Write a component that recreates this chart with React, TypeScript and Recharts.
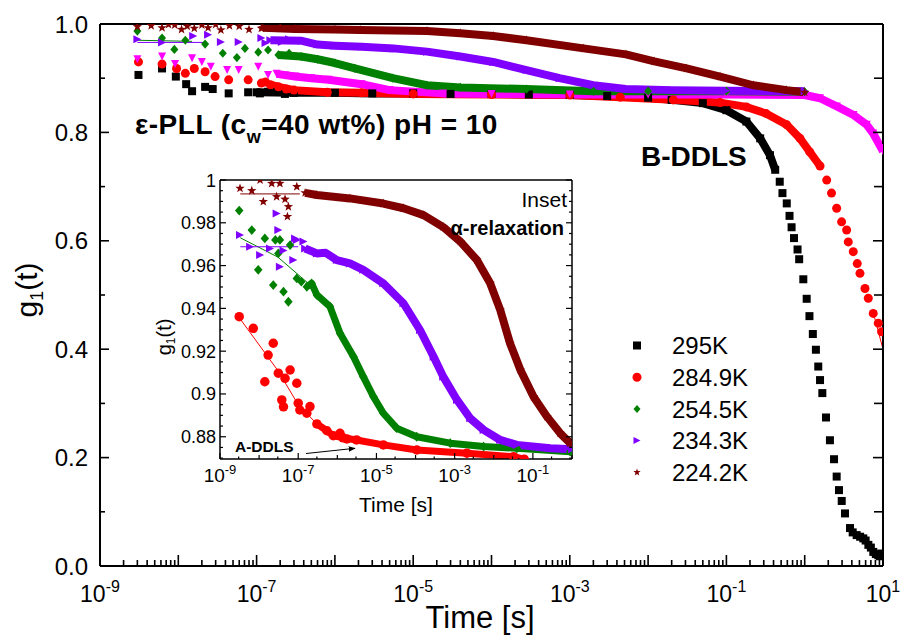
import React from "react";
import { ComposedChart, Scatter, Line, XAxis, YAxis } from "recharts";

type Pt = [number, number];

const FONT = "'Liberation Sans', Arial, Helvetica, sans-serif";

// ---------- main panel: time [s] vs g1(t) ----------
const early295: Pt[] = [[3.1e-9, 0.906], [6.2e-9, 0.918], [9.3e-9, 0.903], [1.26e-8, 0.889], [1.5e-8, 0.876], [2.2e-8, 0.884], [2.75e-8, 0.88], [4.4e-8, 0.872], [7.8e-8, 0.874], [1.1e-7, 0.872], [1.4e-7, 0.875], [1.8e-7, 0.875], [2.3e-7, 0.871]];
const band295: Pt[] = [[1e-7, 0.874], [3e-7, 0.873], [1e-6, 0.873], [3e-6, 0.872], [1e-5, 0.872], [3e-5, 0.871], [1e-4, 0.871], [3e-4, 0.87], [1e-3, 0.869], [3e-3, 0.867], [1e-2, 0.864], [2e-2, 0.86], [5e-2, 0.854], [0.1, 0.841], [0.18, 0.82], [0.27, 0.789], [0.36, 0.758], [0.42, 0.731]];
const tail295: Pt[] = [[0.48, 0.709], [0.52, 0.688], [0.59, 0.669], [0.64, 0.646], [0.68, 0.625], [0.73, 0.605], [0.81, 0.584], [0.85, 0.566], [0.96, 0.529], [1.06, 0.493], [1.15, 0.461], [1.27, 0.428], [1.39, 0.399], [1.49, 0.368], [1.57, 0.343], [1.68, 0.319], [1.87, 0.274], [2.1, 0.232], [2.37, 0.197], [2.56, 0.165], [2.74, 0.14], [2.97, 0.12], [3.27, 0.097], [3.79, 0.07], [4.1, 0.062], [4.61, 0.057], [5.1, 0.054], [5.6, 0.051], [6.0, 0.047], [6.5, 0.039], [7.0, 0.034], [7.52, 0.026], [8.1, 0.022], [8.7, 0.02], [9.1, 0.018], [9.6, 0.023], [10, 0.02]];

const early284: Pt[] = [[3.1e-9, 0.93], [6.2e-9, 0.926], [9.5e-9, 0.918], [1.23e-8, 0.909], [1.6e-8, 0.918], [2.2e-8, 0.912], [2.95e-8, 0.903], [4.4e-8, 0.897], [7.8e-8, 0.897], [1.15e-7, 0.891], [1.3e-7, 0.893], [2.4e-7, 0.88]];
const band284: Pt[] = [[1.5e-7, 0.888], [1.9e-7, 0.884], [3e-7, 0.878], [8e-7, 0.874], [2.2e-6, 0.873], [1e-5, 0.871], [1e-4, 0.87], [1e-3, 0.869], [4.4e-3, 0.865], [2.1e-2, 0.86], [8.3e-2, 0.855], [0.18, 0.847], [0.32, 0.835], [0.59, 0.814], [0.87, 0.789], [1.16, 0.764], [1.57, 0.738]];
const tail284: Pt[] = [[1.91, 0.712], [2.2, 0.688], [2.56, 0.66], [2.96, 0.635], [3.43, 0.62], [3.6, 0.598], [4.17, 0.58], [4.69, 0.558], [5.08, 0.54], [5.89, 0.512], [6.49, 0.494], [7.5, 0.466], [8.7, 0.448], [9.6, 0.432]];
const fit284: Pt[] = [[7.5, 0.468], [10, 0.4]];

const earlyMag: Pt[] = [[3e-9, 0.935], [6.2e-9, 0.94], [9.1e-9, 0.926], [1.5e-8, 0.937], [2e-8, 0.93], [2.6e-8, 0.921], [4.2e-8, 0.915], [5.9e-8, 0.915], [1.05e-7, 0.921], [1.4e-7, 0.906], [2.3e-7, 0.905]];
const bandMag: Pt[] = [[1.8e-7, 0.908], [3.1e-7, 0.903], [5e-7, 0.9], [8.3e-7, 0.897], [2.2e-6, 0.889], [5e-6, 0.878], [2.4e-5, 0.872], [1e-4, 0.871], [1e-3, 0.87], [1e-2, 0.87], [0.1, 0.87], [1.0, 0.869], [1.57, 0.863], [2.57, 0.848], [4.2, 0.832], [6.2, 0.814], [7.5, 0.798], [9.5, 0.771], [10, 0.765]];

const early254: Pt[] = [[3e-9, 0.987], [6.2e-9, 0.974], [8.9e-9, 0.953], [1.23e-8, 0.97], [2.2e-8, 0.963], [3.7e-8, 0.946], [5.6e-8, 0.938], [7.1e-8, 0.955], [1.05e-7, 0.948], [1.4e-7, 0.952], [2.6e-7, 0.946]];
const band254: Pt[] = [[1.9e-7, 0.943], [3.7e-7, 0.94], [6e-7, 0.935], [1e-6, 0.928], [1.8e-6, 0.918], [5.5e-6, 0.9], [1.5e-5, 0.887], [4e-5, 0.883], [2.8e-4, 0.88], [2e-3, 0.876], [1e-2, 0.876], [0.1, 0.876], [1.0, 0.875]];
const fit254: Pt[] = [[3e-9, 0.97], [1.5e-8, 0.968]];

const early234: Pt[] = [[3e-9, 0.972], [6.2e-9, 0.966], [1.55e-8, 0.978], [2.4e-8, 0.98], [3.5e-8, 0.967], [5.9e-8, 0.967], [1.15e-7, 0.974], [1.3e-7, 0.965], [2.1e-7, 0.967], [2.6e-7, 0.972]];
const band234: Pt[] = [[1.5e-7, 0.97], [3.8e-7, 0.969], [6e-7, 0.962], [1e-6, 0.96], [2.2e-6, 0.958], [5.6e-6, 0.955], [1.5e-5, 0.949], [4e-5, 0.94], [1.05e-4, 0.93], [2.8e-4, 0.915], [7.4e-4, 0.9], [2e-3, 0.887], [5.2e-3, 0.88], [2e-2, 0.878], [0.1, 0.877], [1.0, 0.876]];
const fit234: Pt[] = [[3e-9, 0.966], [2.2e-8, 0.966]];

const early224: Pt[] = [[3e-9, 0.995], [4.5e-9, 0.997], [6.2e-9, 0.993], [7.5e-9, 0.999], [9e-9, 0.998], [1.1e-8, 0.99], [1.3e-8, 0.996], [1.6e-8, 0.992], [2e-8, 0.998], [2.4e-8, 0.993], [3e-8, 0.999], [3.5e-8, 0.989], [4.5e-8, 0.997], [6e-8, 0.996], [8e-8, 0.99], [1.15e-7, 0.992], [2e-7, 0.994]];
const band224: Pt[] = [[1.2e-7, 0.993], [3.1e-7, 0.991], [1e-6, 0.99], [2.1e-6, 0.989], [1.5e-5, 0.987], [4e-5, 0.983], [1.05e-4, 0.978], [2.8e-4, 0.97], [1.5e-3, 0.955], [5.2e-3, 0.944], [1.2e-2, 0.931], [3.1e-2, 0.918], [8.3e-2, 0.903], [0.22, 0.887], [0.59, 0.878], [1.0, 0.874]];

// ---------- inset: alpha-relaxation ----------
const inEarly284: Pt[] = [[3.1e-9, 0.9361], [7.1e-9, 0.9307], [1.4e-8, 0.9057], [1.7e-8, 0.9182], [2.3e-8, 0.9237], [3.1e-8, 0.9097], [3.8e-8, 0.8972], [4.2e-8, 0.894], [4.6e-8, 0.9073], [6.2e-8, 0.9112], [9.2e-8, 0.905], [1e-7, 0.8957], [1.1e-7, 0.8925], [1.66e-7, 0.891], [2e-7, 0.8941], [1.17e-6, 0.8816], [1.75e-6, 0.879]];
const inBand284: Pt[] = [[3e-7, 0.886], [5.4e-7, 0.8828], [7.9e-7, 0.8805], [1.4e-6, 0.8795], [3.1e-6, 0.8785], [1.5e-5, 0.8762], [1.08e-4, 0.8738], [2.06e-3, 0.8723], [3.2e-2, 0.8707], [6e-2, 0.8695]];
const inFit284: Pt[] = [[3.3e-9, 0.935], [3e-8, 0.911], [1e-7, 0.895], [3e-7, 0.886]];

const inEarly254: Pt[] = [[3.1e-9, 0.9857], [6.5e-9, 0.9766], [9.5e-9, 0.958], [1.4e-8, 0.9727], [2.3e-8, 0.9509], [2.6e-8, 0.972], [3.1e-8, 0.9657], [3.4e-8, 0.972], [4.2e-8, 0.9478], [5.6e-8, 0.9431], [6.2e-8, 0.9696], [9.2e-8, 0.954], [1.2e-7, 0.9525]];
const inBand254: Pt[] = [[1.66e-7, 0.9501], [2.2e-7, 0.9517], [3e-7, 0.9463], [6.5e-7, 0.9408], [1.17e-6, 0.9284], [2.6e-6, 0.9174], [4.6e-6, 0.9081], [8.4e-6, 0.8987], [1.5e-5, 0.891], [3.3e-5, 0.884], [1.07e-4, 0.88], [7.7e-4, 0.877], [5.5e-3, 0.8754], [3.9e-2, 0.8746], [0.9, 0.873], [1, 0.873]];
const inFit254: Pt[] = [[3.3e-9, 0.973], [3e-8, 0.964], [2e-7, 0.951]];

const inEarly234: Pt[] = [[3.25e-9, 0.9743], [5.9e-9, 0.9688], [1.06e-8, 0.965], [1.9e-8, 0.968], [2.8e-8, 0.9844], [3.1e-8, 0.9766], [3.4e-8, 0.9595], [4.2e-8, 0.967], [7.5e-8, 0.9626], [8.3e-8, 0.9727], [9.2e-8, 0.972], [1.36e-7, 0.9712]];
const inBand234: Pt[] = [[1.5e-7, 0.968], [3e-7, 0.9657], [5e-7, 0.966], [9.7e-7, 0.9626], [2.1e-6, 0.961], [4.6e-6, 0.958], [1.5e-5, 0.9517], [4.9e-5, 0.9424], [1.3e-4, 0.9299], [2.9e-4, 0.9174], [5.1e-4, 0.9081], [1.15e-3, 0.8972], [2.5e-3, 0.8886], [5.5e-3, 0.8832], [1.46e-2, 0.8785], [3.9e-2, 0.8762], [0.28, 0.8746], [1, 0.8741]];
const inFit234: Pt[] = [[3.3e-9, 0.9688], [1e-7, 0.9688]];

const inEarly224: Pt[] = [[3.25e-9, 0.9961], [6.5e-9, 0.995], [1.06e-8, 1.0], [1.28e-8, 0.9899], [2.1e-8, 0.9984], [2.8e-8, 0.9922], [3.4e-8, 0.9984], [4.6e-8, 0.991], [5.3e-8, 0.9829], [5.6e-8, 0.9875], [9.2e-8, 0.9969]];
const inBand224: Pt[] = [[1.5e-7, 0.994], [3e-7, 0.993], [2.1e-6, 0.9914], [1.5e-5, 0.989], [4.9e-5, 0.9868], [1.6e-4, 0.9836], [5.1e-4, 0.978], [1.4e-3, 0.9712], [3.7e-3, 0.9626], [8.1e-3, 0.9517], [1.46e-2, 0.9393], [2.6e-2, 0.9237], [4.8e-2, 0.9112], [0.104, 0.8987], [0.23, 0.8894], [0.5, 0.8816], [0.9, 0.877], [1, 0.8765]];
const inFit224: Pt[] = [[3.3e-9, 0.9935], [1.1e-7, 0.9935]];

// ---------- axes ----------
const mainXLabelExp = [-9, -7, -5, -3, -1, 1];
const mainXDecades = [-9, -8, -7, -6, -5, -4, -3, -2, -1, 0, 1];
const mainXTicks = [
  ...mainXDecades.map((e) => Math.pow(10, e)),
  ...mainXDecades.slice(0, -1).flatMap((e) => [2, 3, 4, 5, 6, 7, 8, 9].map((m) => m * Math.pow(10, e))),
];
const mainYTicks = [0, 0.1, 0.2, 0.3, 0.4, 0.5, 0.6, 0.7, 0.8, 0.9, 1.0];

const inXLabelExp = [-9, -7, -5, -3, -1];
const inXDecades = [-9, -8, -7, -6, -5, -4, -3, -2, -1, 0];
const inXTicks = [
  ...inXDecades.map((e) => Math.pow(10, e)),
  ...inXDecades.slice(0, -1).map((e) => 3 * Math.pow(10, e)),
];
const inYTicks = Array.from({ length: 27 }, (_, i) => (174 + i) * 0.005);

const legendItems = [
  { label: "295K", color: "#000000", shape: "square" },
  { label: "284.9K", color: "#ff0000", shape: "circle" },
  { label: "254.5K", color: "#008000", shape: "diamond" },
  { label: "234.3K", color: "#8000ff", shape: "right" },
  { label: "224.2K", color: "#800000", shape: "star" },
];

const rows = (a: Pt[]) => a.map(([t, g]) => ({ t, g }));

function marker(kind: string, cx: number, cy: number, s: number, color: string) {
  const h = s / 2;
  switch (kind) {
    case "square":
      return <rect x={cx - h} y={cy - h} width={s} height={s} fill={color} />;
    case "circle":
      return <circle cx={cx} cy={cy} r={h} fill={color} />;
    case "diamond":
      return <polygon points={`${cx},${cy - h * 1.15} ${cx + h},${cy} ${cx},${cy + h * 1.15} ${cx - h},${cy}`} fill={color} />;
    case "right":
      return <polygon points={`${cx - h},${cy - h} ${cx + h},${cy} ${cx - h},${cy + h}`} fill={color} />;
    case "down":
      return <polygon points={`${cx - h},${cy - h} ${cx + h},${cy - h} ${cx},${cy + h}`} fill={color} />;
    default: {
      const p: string[] = [];
      for (let i = 0; i < 10; i++) {
        const r = i % 2 === 0 ? h * 1.1 : h * 0.45;
        const a = -Math.PI / 2 + (i * Math.PI) / 5;
        p.push(`${cx + r * Math.cos(a)},${cy + r * Math.sin(a)}`);
      }
      return <polygon points={p.join(" ")} fill={color} />;
    }
  }
}

const isDecade = (v: number) => {
  const l = Math.log10(v);
  return Math.abs(l - Math.round(l)) < 1e-6;
};

function pow10(x: number, y: number, e: number, size: number, sup: number, dy: number) {
  return (
    <text x={x} y={y} textAnchor="middle" fontFamily={FONT} fontSize={size} fill="#000">
      10<tspan fontSize={sup} dy={-dy}>{e}</tspan>
    </text>
  );
}

const AX = { stroke: "#000", strokeWidth: 2 };
const AXI = { stroke: "#000", strokeWidth: 1.5 };
const TK = { stroke: "#000", strokeWidth: 1.6 };

// main ticks
const mainBottomTick = (p: any) => {
  const v = p.payload.value;
  const dec = isDecade(v);
  const e = Math.round(Math.log10(v));
  return (
    <g>
      <line x1={p.x} x2={p.x} y1={p.y} y2={p.y - (dec ? 11 : 6)} {...TK} />
      {dec && mainXLabelExp.includes(e) && pow10(p.x, p.y + 36, e, 23, 16, 10)}
    </g>
  );
};
const mainTopTick = (p: any) => {
  const dec = isDecade(p.payload.value);
  return <line x1={p.x} x2={p.x} y1={p.y} y2={p.y + (dec ? 11 : 6)} {...TK} />;
};
const mainLeftTick = (p: any) => {
  const v = p.payload.value;
  const major = Math.abs(v * 5 - Math.round(v * 5)) < 1e-6;
  return (
    <g>
      <line x1={p.x} x2={p.x + (major ? 9 : 5)} y1={p.y} y2={p.y} {...TK} />
      {major && (
        <text x={p.x - 12} y={p.y + 8.5} textAnchor="end" fontFamily={FONT} fontSize={24} fill="#000">
          {v.toFixed(1)}
        </text>
      )}
    </g>
  );
};
const mainRightTick = (p: any) => {
  const v = p.payload.value;
  const major = Math.abs(v * 5 - Math.round(v * 5)) < 1e-6;
  return <line x1={p.x} x2={p.x - (major ? 10 : 9)} y1={p.y} y2={p.y} {...TK} />;
};

// inset ticks
const inBottomTick = (p: any) => {
  const v = p.payload.value;
  const dec = isDecade(v);
  const e = Math.round(Math.log10(v));
  const lab = dec && inXLabelExp.includes(e);
  return (
    <g>
      <line x1={p.x} x2={p.x} y1={p.y} y2={p.y - (lab ? 6 : dec ? 4 : 2.5)} stroke="#000" strokeWidth={1.2} />
      {lab && pow10(p.x, p.y + 23, e, 19, 13, 8)}
    </g>
  );
};
const inTopTick = (p: any) => {
  const v = p.payload.value;
  const dec = isDecade(v);
  const e = Math.round(Math.log10(v));
  const lab = dec && inXLabelExp.includes(e);
  return <line x1={p.x} x2={p.x} y1={p.y} y2={p.y + (lab ? 6 : dec ? 4 : 2.5)} stroke="#000" strokeWidth={1.2} />;
};
const inLeftTick = (p: any) => {
  const v = p.payload.value;
  const major = Math.round(v * 200) % 4 === 0;
  return (
    <g>
      <line x1={p.x} x2={p.x + (major ? 6 : 3)} y1={p.y} y2={p.y} stroke="#000" strokeWidth={1.2} />
      {major && (
        <text x={p.x - 4} y={p.y + 6.5} textAnchor="end" fontFamily={FONT} fontSize={18} fill="#000">
          {String(parseFloat(v.toFixed(2)))}
        </text>
      )}
    </g>
  );
};
const inRightTick = (p: any) => {
  const major = Math.round(p.payload.value * 200) % 4 === 0;
  return <line x1={p.x} x2={p.x - (major ? 6 : 3)} y1={p.y} y2={p.y} stroke="#000" strokeWidth={1.2} />;
};

const mainSeries = [
  { name: "295K", color: "#000000", shape: "square", size: 8, early: early295, band: band295, tail: tail295 },
  { name: "284.9K", color: "#ff0000", shape: "circle", size: 9, early: early284, band: band284, tail: tail284 },
  { name: "mag", color: "#ff00ff", shape: "down", size: 8, early: earlyMag, band: bandMag, tail: [] as Pt[] },
  { name: "254.5K", color: "#008000", shape: "diamond", size: 8, early: early254, band: band254, tail: [] as Pt[] },
  { name: "234.3K", color: "#8000ff", shape: "right", size: 8, early: early234, band: band234, tail: [] as Pt[] },
  { name: "224.2K", color: "#800000", shape: "star", size: 9, early: early224, band: band224, tail: [] as Pt[] },
];
const mainFits = [
  { name: "f284", color: "#ff0000", data: fit284 },
  { name: "f254", color: "#008000", data: fit254 },
  { name: "f234", color: "#8000ff", data: fit234 },
];

const inSeries = [
  { name: "284.9K", color: "#ff0000", shape: "circle", size: 9.5, width: 7, early: inEarly284, band: inBand284 },
  { name: "254.5K", color: "#008000", shape: "diamond", size: 8.5, width: 7, early: inEarly254, band: inBand254 },
  { name: "234.3K", color: "#8000ff", shape: "right", size: 8, width: 8, early: inEarly234, band: inBand234 },
  { name: "224.2K", color: "#800000", shape: "star", size: 9, width: 8, early: inEarly224, band: inBand224 },
];
const inFits = [
  { name: "f284", color: "#ff0000", data: inFit284 },
  { name: "f254", color: "#008000", data: inFit254 },
  { name: "f234", color: "#8000ff", data: inFit234 },
  { name: "f224", color: "#800000", data: inFit224 },
];

function MainChart() {
  return (
    <ComposedChart width={901} height={637} margin={{ top: 0, right: 0, bottom: 0, left: 0 }}>
      <XAxis xAxisId="b" dataKey="t" type="number" scale="log" domain={[1e-9, 10]} allowDataOverflow ticks={mainXTicks} interval={0} height={71} tickSize={0} tickMargin={0} tickLine={false} axisLine={AX} tick={mainBottomTick} />
      <XAxis xAxisId="t" orientation="top" type="number" scale="log" domain={[1e-9, 10]} allowDataOverflow ticks={mainXTicks} interval={0} height={24} tickSize={0} tickMargin={0} tickLine={false} axisLine={AX} tick={mainTopTick} />
      <YAxis yAxisId="l" dataKey="g" type="number" domain={[0, 1]} allowDataOverflow ticks={mainYTicks} interval={0} width={100} tickSize={0} tickMargin={0} tickLine={false} axisLine={AX} tick={mainLeftTick} />
      <YAxis yAxisId="r" orientation="right" type="number" domain={[0, 1]} allowDataOverflow ticks={mainYTicks} interval={0} width={18} tickSize={0} tickMargin={0} tickLine={false} axisLine={AX} tick={mainRightTick} />
      {mainSeries.map((s) => [
        <Line key={s.name + "-band"} xAxisId="b" yAxisId="l" data={rows(s.band)} dataKey="g" stroke={s.color} strokeWidth={8} strokeLinejoin="round" dot={false} activeDot={false} isAnimationActive={false} />,
        <Scatter key={s.name + "-pts"} xAxisId="b" yAxisId="l" data={rows([...s.early, ...s.band, ...s.tail])} isAnimationActive={false} shape={(p: any) => (p.cx == null ? <g /> : marker(s.shape, p.cx, p.cy, s.size, s.color))} />,
      ])}
      {mainFits.map((f) => (
        <Line key={f.name} xAxisId="b" yAxisId="l" data={rows(f.data)} dataKey="g" stroke={f.color} strokeWidth={1} dot={false} activeDot={false} isAnimationActive={false} />
      ))}
    </ComposedChart>
  );
}

function InsetChart() {
  return (
    <ComposedChart width={450} height={370} margin={{ top: 0, right: 0, bottom: 0, left: 0 }}>
      <XAxis xAxisId="b" dataKey="t" type="number" scale="log" domain={[1e-9, 1]} allowDataOverflow ticks={inXTicks} interval={0} height={71} tickSize={0} tickMargin={0} tickLine={false} axisLine={AXI} tick={inBottomTick} />
      <XAxis xAxisId="t" orientation="top" type="number" scale="log" domain={[1e-9, 1]} allowDataOverflow ticks={inXTicks} interval={0} height={20} tickSize={0} tickMargin={0} tickLine={false} axisLine={AXI} tick={inTopTick} />
      <YAxis yAxisId="l" dataKey="g" type="number" domain={[0.8696, 1]} allowDataOverflow ticks={inYTicks} interval={0} width={80} tickSize={0} tickMargin={0} tickLine={false} axisLine={AXI} tick={inLeftTick} />
      <YAxis yAxisId="r" orientation="right" type="number" domain={[0.8696, 1]} allowDataOverflow ticks={inYTicks} interval={0} width={18} tickSize={0} tickMargin={0} tickLine={false} axisLine={AXI} tick={inRightTick} />
      {inSeries.map((s) => [
        <Line key={s.name + "-band"} xAxisId="b" yAxisId="l" data={rows(s.band)} dataKey="g" stroke={s.color} strokeWidth={s.width} strokeLinejoin="round" dot={false} activeDot={false} isAnimationActive={false} />,
        <Scatter key={s.name + "-pts"} xAxisId="b" yAxisId="l" data={rows([...s.early, ...s.band])} isAnimationActive={false} shape={(p: any) => (p.cx == null ? <g /> : marker(s.shape, p.cx, p.cy, s.size, s.color))} />,
      ])}
      {inFits.map((f) => (
        <Line key={f.name} xAxisId="b" yAxisId="l" data={rows(f.data)} dataKey="g" stroke={f.color} strokeWidth={1} dot={false} activeDot={false} isAnimationActive={false} />
      ))}
    </ComposedChart>
  );
}

function Overlay() {
  return (
    <svg width={901} height={637} style={{ position: "absolute", left: 0, top: 0, pointerEvents: "none" }} fontFamily={FONT}>
      <defs>
        <marker id="arr" viewBox="0 0 10 10" refX="9" refY="5" markerWidth="7" markerHeight="7" orient="auto">
          <path d="M0,1 L10,5 L0,9 z" fill="#000" />
        </marker>
      </defs>
      {/* main axis titles */}
      <text x={480} y={628} textAnchor="middle" fontSize={31} fill="#000">Time [s]</text>
      <text transform="translate(37,290) rotate(-90)" textAnchor="middle" fontSize={30} fill="#000">
        g<tspan fontSize={18} dy={6}>1</tspan><tspan dy={-6}>(t)</tspan>
      </text>
      {/* inset axis titles */}
      <text x={396} y={512} textAnchor="middle" fontSize={21} fill="#000">Time [s]</text>
      <text transform="translate(171,337) rotate(-90)" textAnchor="middle" fontSize={20} fill="#000">
        g<tspan fontSize={12} dy={4}>1</tspan><tspan dy={-4}>(t)</tspan>
      </text>
      {/* annotations */}
      <text x={135} y={134} fontSize={28} fontWeight="bold" letterSpacing={0.5} fill="#000">
        ε-PLL (c<tspan fontSize={18} dy={9}>w</tspan><tspan dy={-9}>=40 wt%) pH = 10</tspan>
      </text>
      <text x={641} y={166} fontSize={28} fontWeight="bold" fill="#000">B-DDLS</text>
      <text x={567} y={207} textAnchor="end" fontSize={21} fill="#000">Inset</text>
      <text x={564} y={235} textAnchor="end" fontSize={20} fontWeight="bold" fill="#000">α-relaxation</text>
      <text x={235} y={452} fontSize={15.5} fontWeight="bold" fill="#000">A-DDLS</text>
      <line x1={306} y1={453.5} x2={355} y2={448.3} stroke="#000" strokeWidth={1} markerEnd="url(#arr)" />
      {/* legend */}
      {legendItems.map((it, i) => {
        const cy = 345.5 + i * 31.7;
        return (
          <g key={it.label}>
            {marker(it.shape, 637, cy, it.shape === "square" ? 8 : it.shape === "circle" ? 9 : 7, it.color)}
            <text x={672} y={cy + 8.6} fontSize={24} fill="#000">{it.label}</text>
          </g>
        );
      })}
    </svg>
  );
}

export default function App() {
  return (
    <div style={{ position: "absolute", left: 0, top: 0, width: 901, height: 637, background: "#fff", fontFamily: FONT }}>
      <div style={{ position: "absolute", left: 0, top: 0 }}>
        <MainChart />
      </div>
      <div style={{ position: "absolute", left: 140, top: 160 }}>
        <InsetChart />
      </div>
      <Overlay />
    </div>
  );
}
